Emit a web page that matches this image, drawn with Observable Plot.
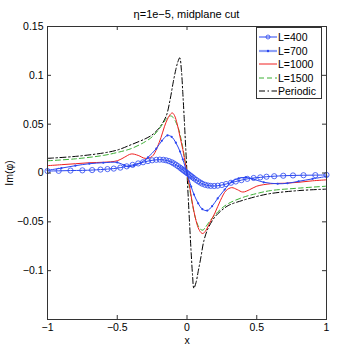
<!DOCTYPE html>
<html><head><meta charset="utf-8">
<script src="https://cdn.jsdelivr.net/npm/d3@7"></script>
<script src="https://cdn.jsdelivr.net/npm/@observablehq/plot@0.6"></script>
<style>
body{margin:0;background:#fff;font-family:"Liberation Sans",Arial,sans-serif;}
#wrap{position:relative;width:360px;height:359px;}
#title{position:absolute;top:8px;left:47px;width:279px;text-align:center;font-size:11px;line-height:13px;}
#legend{position:absolute;left:256px;top:27px;width:66px;height:72px;border:1px solid #333;background:#fff;font-size:10.5px;box-sizing:border-box;}
.row{position:absolute;left:0;height:12px;line-height:12px;}
.row svg{position:absolute;left:2px;top:1px;}
.row span{position:absolute;left:21px;top:0;white-space:nowrap;}
</style></head><body><div id="wrap"><div id="title">η=1e−5, midplane cut</div></div>
<script>
// ---- data ----
const xTicks = [-1, -0.5, 0, 0.5, 1];
const yTicks = [-0.1, -0.05, 0, 0.05, 0.1, 0.15];

const xL400 = [-1,-0.92,-0.835,-0.75,-0.68,-0.62,-0.57,-0.525,-0.478,-0.432,-0.39,-0.35,-0.315,-0.28,-0.25,-0.22,-0.195,-0.17,-0.15,-0.13,-0.11,-0.095,-0.08,-0.065,-0.05,-0.04,-0.03,-0.02,-0.01,0,
  0.01,0.02,0.03,0.04,0.05,0.065,0.08,0.095,0.11,0.13,0.15,0.17,0.195,0.22,0.25,0.28,0.315,0.35,0.39,0.432,0.478,0.525,0.57,0.625,0.69,0.76,0.835,0.92,1];
const yL400 = [0.002,0.0022,0.0025,0.0027,0.003,0.0035,0.004,0.0045,0.0055,0.0068,0.0083,0.0098,0.011,0.0122,0.013,0.0135,0.0137,0.0135,0.013,0.0122,0.011,0.0098,0.0085,0.007,0.0055,0.0044,0.0033,0.0022,0.0011,0,
  -0.0011,-0.0022,-0.0033,-0.0044,-0.0055,-0.007,-0.0085,-0.0098,-0.011,-0.0121,-0.0128,-0.0132,-0.0133,-0.013,-0.0123,-0.0113,-0.01,-0.0087,-0.0073,-0.006,-0.0051,-0.0045,-0.0038,-0.0033,-0.0028,-0.0025,-0.0023,-0.0022,-0.002];

const xL700 = [-1,-0.9,-0.8,-0.7,-0.6,-0.5,-0.45,-0.42,-0.38,-0.33,-0.28,-0.22,-0.18,-0.14,-0.11,-0.08,-0.05,-0.03,0,
  0.03,0.05,0.08,0.11,0.145,0.18,0.22,0.27,0.32,0.37,0.42,0.47,0.55,0.65,0.72,0.8,0.9,1];
const yL700 = [0.0028,0.005,0.0075,0.0095,0.0105,0.0108,0.008,0.0065,0.0075,0.0105,0.016,0.025,0.033,0.0385,0.037,0.031,0.022,0.014,0,
  -0.014,-0.022,-0.031,-0.037,-0.0385,-0.034,-0.026,-0.017,-0.009,-0.0055,-0.0045,-0.006,-0.0095,-0.011,-0.0105,-0.0085,-0.006,-0.0035];

const xL1000 = [-1,-0.9,-0.8,-0.7,-0.6,-0.5,-0.45,-0.4,-0.35,-0.3,-0.25,-0.2,-0.15,-0.12,-0.105,-0.09,-0.07,-0.05,-0.03,-0.01,0,
  0.02,0.04,0.06,0.08,0.1,0.113,0.13,0.16,0.2,0.24,0.28,0.32,0.36,0.4,0.45,0.5,0.6,0.7,0.8,0.9,1];
const yL1000 = [0.0075,0.0085,0.0095,0.0105,0.011,0.0125,0.016,0.0195,0.018,0.015,0.017,0.031,0.052,0.06,0.0615,0.059,0.05,0.037,0.024,0.008,0,
  -0.015,-0.032,-0.046,-0.056,-0.061,-0.062,-0.06,-0.052,-0.041,-0.028,-0.018,-0.015,-0.017,-0.0195,-0.017,-0.0135,-0.011,-0.0105,-0.0095,-0.008,-0.007];

const xL1500 = [-1,-0.8,-0.6,-0.5,-0.4,-0.3,-0.25,-0.2,-0.15,-0.12,-0.1,-0.08,-0.06,-0.04,-0.02,0,
  0.02,0.04,0.06,0.08,0.1,0.115,0.13,0.16,0.2,0.25,0.3,0.4,0.5,0.6,0.8,1];
const yL1500 = [0.0125,0.0145,0.018,0.021,0.025,0.032,0.037,0.045,0.055,0.0585,0.057,0.052,0.045,0.033,0.018,0,
  -0.017,-0.033,-0.046,-0.054,-0.058,-0.0585,-0.056,-0.05,-0.043,-0.036,-0.031,-0.025,-0.021,-0.018,-0.0155,-0.0135];

const xPer = [-1,-0.8,-0.6,-0.5,-0.4,-0.3,-0.25,-0.2,-0.15,-0.12,-0.1,-0.08,-0.065,-0.052,-0.04,-0.03,-0.02,-0.01,0,
  0.01,0.02,0.03,0.04,0.049,0.065,0.08,0.1,0.12,0.15,0.2,0.25,0.3,0.4,0.5,0.6,0.8,1];
const yPer = [0.015,0.017,0.0205,0.0235,0.029,0.035,0.039,0.046,0.058,0.076,0.092,0.106,0.114,0.118,0.105,0.082,0.056,0.028,0,
  -0.028,-0.056,-0.082,-0.105,-0.118,-0.112,-0.101,-0.086,-0.07,-0.057,-0.045,-0.038,-0.033,-0.028,-0.024,-0.021,-0.018,-0.0165];

const seriesNames = ["L=400", "L=700", "L=1000", "L=1500", "Periodic"];
const colors = ["#2a46f0", "#2a46f0", "#f02020", "#3cb034", "#000000"];
const dashes = [null, null, null, "5,3", "6,2.5,1.5,2.5"];

const rows = (xs, ys) => xs.map((x, i) => ({x, y: ys[i]}));
const d400 = rows(xL400, yL400), d700 = rows(xL700, yL700), d1000 = rows(xL1000, yL1000),
      d1500 = rows(xL1500, yL1500), dPer = rows(xPer, yPer);

const fmt = d => (d < 0 ? "−" : "") + String(Math.abs(d));

const H = 359, mT = 26, mB = 40, innerH = H - mT - mB;

const chart = Plot.plot({
  width: 360, height: H, marginLeft: 47, marginRight: 34, marginTop: mT, marginBottom: mB,
  x: {domain: [-1, 1]},
  y: {domain: [-0.15, 0.15]},
  style: {fontFamily: "Liberation Sans, Arial, sans-serif", fontSize: "10.5px", color: "#000", background: "#fff"},
  marks: [
    Plot.line(dPer, {x: "x", y: "y", stroke: colors[4], strokeDasharray: dashes[4], strokeWidth: 1, curve: "catmull-rom"}),
    Plot.line(d1500, {x: "x", y: "y", stroke: colors[3], strokeDasharray: dashes[3], strokeWidth: 1, curve: "catmull-rom"}),
    Plot.line(d1000, {x: "x", y: "y", stroke: colors[2], strokeWidth: 1, curve: "catmull-rom"}),
    Plot.line(d700, {x: "x", y: "y", stroke: colors[1], strokeWidth: 1, curve: "catmull-rom"}),
    Plot.dot(d700, {x: "x", y: "y", fill: colors[1], r: 1.1}),
    Plot.line(d400, {x: "x", y: "y", stroke: colors[0], strokeWidth: 1, curve: "catmull-rom"}),
    Plot.dot(d400, {x: "x", y: "y", stroke: colors[0], r: 2.6, strokeWidth: 0.8}),
    Plot.frame({stroke: "#333"}),
    Plot.ruleX(xTicks, {x: d => d, stroke: "#333", insetTop: innerH - 4}),
    Plot.ruleX(xTicks, {x: d => d, stroke: "#333", insetBottom: innerH - 4}),
    Plot.ruleY(yTicks, {y: d => d, stroke: "#333", insetRight: 279 - 4}),
    Plot.ruleY(yTicks, {y: d => d, stroke: "#333", insetLeft: 279 - 4}),
    Plot.axisX(xTicks, {anchor: "bottom", tickSize: 0, tickPadding: 4, tickFormat: fmt, label: "x", labelAnchor: "center", labelArrow: "none", labelOffset: 24}),
    Plot.axisY(yTicks, {anchor: "left", tickSize: 0, tickPadding: 4, tickFormat: fmt, label: "Im(φ)", labelAnchor: "center", labelArrow: "none", labelOffset: 42})
  ]
});
document.getElementById("wrap").appendChild(chart);

// legend
const leg = document.createElement("div");
leg.id = "legend";
seriesNames.forEach((name, i) => {
  const r = document.createElement("div");
  r.className = "row";
  r.style.top = (3 + i * 13.5) + "px";
  const ns = "http://www.w3.org/2000/svg";
  const s = document.createElementNS(ns, "svg");
  s.setAttribute("width", 18); s.setAttribute("height", 10);
  const ln = document.createElementNS(ns, "line");
  ln.setAttribute("x1", 0); ln.setAttribute("x2", 18); ln.setAttribute("y1", 5); ln.setAttribute("y2", 5);
  ln.setAttribute("stroke", colors[i]);
  if (dashes[i]) ln.setAttribute("stroke-dasharray", dashes[i]);
  s.appendChild(ln);
  if (i === 0) {
    const c = document.createElementNS(ns, "circle");
    c.setAttribute("cx", 9); c.setAttribute("cy", 5); c.setAttribute("r", 2); c.setAttribute("fill", "none");
    c.setAttribute("stroke", colors[i]); c.setAttribute("stroke-width", 0.8);
    s.appendChild(c);
  }
  if (i === 1) {
    ln.setAttribute("stroke-width", 2.2); ln.setAttribute("stroke", "#8ea0f6");
    const c = document.createElementNS(ns, "circle");
    c.setAttribute("cx", 9); c.setAttribute("cy", 5); c.setAttribute("r", 1.2); c.setAttribute("fill", colors[i]);
    s.appendChild(c);
  }
  r.appendChild(s);
  const t = document.createElement("span");
  t.textContent = name;
  r.appendChild(t);
  leg.appendChild(r);
});
document.getElementById("wrap").appendChild(leg);
</script></body></html>
